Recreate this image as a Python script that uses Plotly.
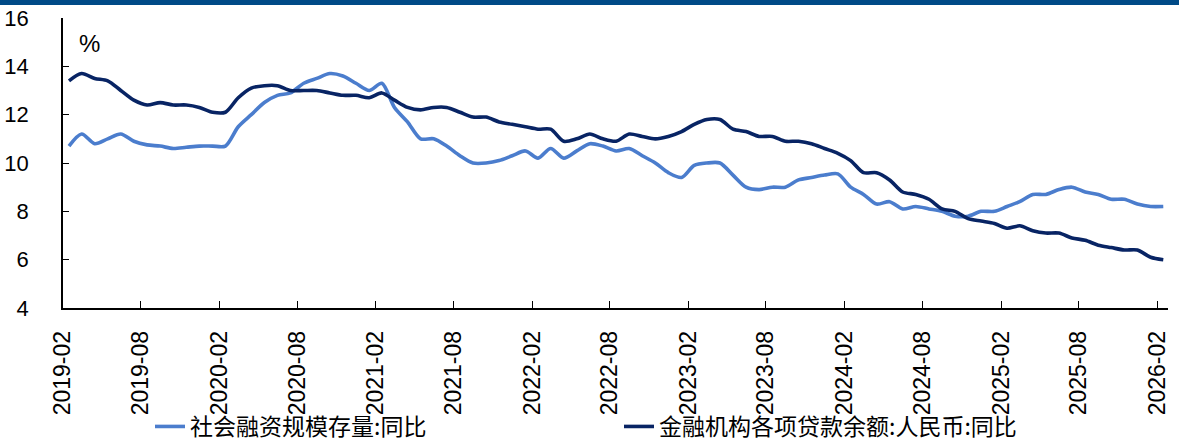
import pandas as pd
import plotly.graph_objects as go

months = pd.date_range("2019-02-01", "2026-02-01", freq="MS").strftime("%Y-%m-%d").tolist()

tsf_yoy = [
    10.7, 11.2, 10.8, 11.0, 11.2, 10.9, 10.75, 10.7, 10.6, 10.65, 10.7,
    10.7, 10.7, 11.5, 12.0, 12.5, 12.8, 12.9, 13.3, 13.5, 13.7, 13.6, 13.3,
    13.0, 13.3, 12.3, 11.7, 11.0, 11.0, 10.7, 10.3, 10.0, 10.0, 10.1, 10.3,
    10.5, 10.2, 10.6, 10.2, 10.5, 10.8, 10.7, 10.5, 10.6, 10.3, 10.0, 9.6,
    9.4, 9.9, 10.0, 10.0, 9.5, 9.0, 8.9, 9.0, 9.0, 9.3, 9.4, 9.5,
    9.55, 9.0, 8.7, 8.3, 8.4, 8.1, 8.2, 8.1, 8.0, 7.8, 7.8, 8.0,
    8.0, 8.2, 8.4, 8.7, 8.7, 8.9, 9.0, 8.8, 8.7, 8.5, 8.5, 8.3,
    8.2, 8.2,
]

loan_yoy = [
    13.4, 13.7, 13.5, 13.4, 13.0, 12.6, 12.4, 12.5, 12.4, 12.4, 12.3,
    12.1, 12.1, 12.7, 13.1, 13.2, 13.2, 13.0, 13.0, 13.0, 12.9, 12.8, 12.8,
    12.7, 12.9, 12.6, 12.3, 12.2, 12.3, 12.3, 12.1, 11.9, 11.9, 11.7, 11.6,
    11.5, 11.4, 11.4, 10.9, 11.0, 11.2, 11.0, 10.9, 11.2, 11.1, 11.0, 11.1,
    11.3, 11.6, 11.8, 11.8, 11.4, 11.3, 11.1, 11.1, 10.9, 10.9, 10.8, 10.6,
    10.4, 10.1, 9.6, 9.6, 9.3, 8.8, 8.7, 8.5, 8.1, 8.0, 7.7, 7.6,
    7.5, 7.3, 7.4, 7.2, 7.1, 7.1, 6.9, 6.8, 6.6, 6.5, 6.4, 6.4,
    6.1, 6.0,
]

series_names = ["社会融资规模存量:同比", "金融机构各项贷款余额:人民币:同比"]
y_ticks = [4, 6, 8, 10, 12, 14, 16]

LIGHT = "#4B7DCD"
DARK = "#082464"
FONT = "Liberation Sans, Arial, sans-serif"
CJK = "Noto Sans CJK SC, sans-serif"

fig = go.Figure()
fig.add_trace(go.Scatter(
    x=months, y=tsf_yoy, name=series_names[0], mode="lines",
    xperiod="M1", xperiodalignment="middle",
    line=dict(color=LIGHT, width=3.6, shape="spline", smoothing=0.8),
    legend="legend",
))
fig.add_trace(go.Scatter(
    x=months, y=loan_yoy, name=series_names[1], mode="lines",
    xperiod="M1", xperiodalignment="middle",
    line=dict(color=DARK, width=3.6, shape="spline", smoothing=0.8),
    legend="legend2",
))

W, H = 1179, 448
ML, MR, MT, MB = 63, 11, 18, 140
PW = W - ML - MR
PH = H - MT - MB

fig.update_layout(
    width=W, height=H,
    margin=dict(l=ML, r=MR, t=MT, b=MB, autoexpand=False),
    paper_bgcolor="white", plot_bgcolor="white",
    font=dict(family=FONT, color="black"),
    showlegend=True,
    legend=dict(
        orientation="h", xref="container", yref="container",
        x=150 / W, xanchor="left",
        y=0, yanchor="bottom",
        font=dict(family=CJK, size=23, color="black"),
        bgcolor="rgba(0,0,0,0)",
    ),
    legend2=dict(
        orientation="h", xref="container", yref="container",
        x=619 / W, xanchor="left",
        y=0, yanchor="bottom",
        font=dict(family=CJK, size=23, color="black"),
        bgcolor="rgba(0,0,0,0)",
    ),
    xaxis=dict(
        type="date",
        range=["2019-02-01", "2026-02-26"],
        tick0="2019-02-01", dtick="M6",
        tickformat="%Y-%m", tickangle=-90,
        ticks="inside", ticklen=7, tickwidth=1.2, tickcolor="black",
        showline=True, linecolor="black", linewidth=1.5,
        showgrid=False, zeroline=False, automargin=False,
        tickfont=dict(family=FONT, size=23, color="black"),
        ticklabelstandoff=12,
    ),
    yaxis=dict(
        range=[4, 16], tickvals=y_ticks,
        ticks="inside", ticklen=6, tickwidth=1.2, tickcolor="black",
        showline=True, linecolor="black", linewidth=1.5,
        showgrid=False, zeroline=False, automargin=False,
        tickfont=dict(family=FONT, size=22, color="black"),
        ticklabelstandoff=28,
    ),
    shapes=[dict(
        type="rect", xref="paper", yref="paper",
        x0=-ML / PW, x1=1 + MR / PW, y0=1 + (MT - 5) / PH, y1=1 + MT / PH,
        fillcolor="#004A87", line=dict(width=0), layer="above",
    )],
    annotations=[dict(
        text="%", xref="paper", yref="paper",
        x=(89 - ML) / PW, y=1 - (44 - MT) / PH,
        xanchor="center", yanchor="middle", showarrow=False,
        font=dict(family=FONT, size=24, color="black"),
    )],
)

fig.write_html(
    "out.html",
    config={"displayModeBar": False},
    post_script="document.body.style.margin='0';document.body.style.overflow='hidden';",
)
